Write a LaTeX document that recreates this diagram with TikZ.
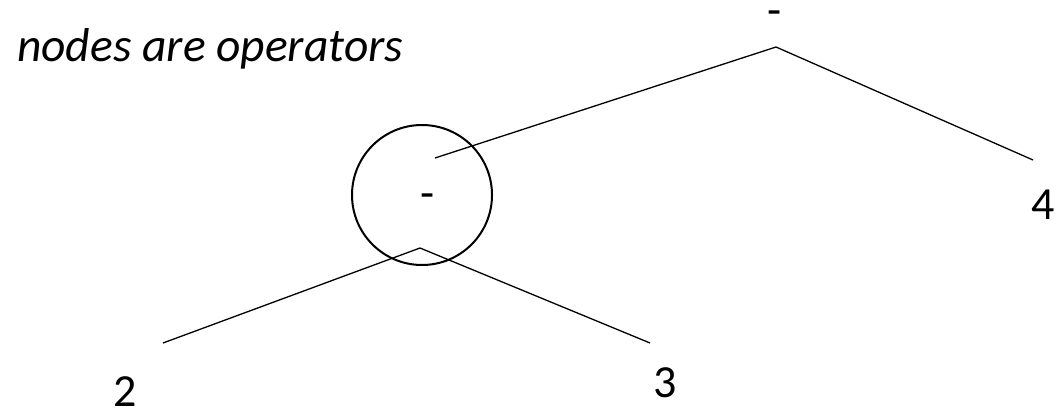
\documentclass[tikz,border=0pt]{standalone}
\usepackage{fontspec}
\setmainfont{Carlito}
\usetikzlibrary{positioning}

\begin{document}
\begin{tikzpicture}[x=1pt,y=-1pt,font=\fontsize{46}{52}\selectfont,
  op/.style={inner sep=0pt,anchor=base},
  leaf/.style={inner sep=0pt},
  edge/.style={line width=1.3pt}]
  \useasboundingbox (0,0) rectangle (1056,412);
  % caption
  \node[anchor=base west,inner sep=0pt,font=\fontsize{47.5}{52}\selectfont\itshape] (caption) at (17,62) {nodes are operators};
  % operators
  \node[op] (root) at (775,26) {-};
  \node[draw,circle,line width=2pt,minimum size=140pt,inner sep=0pt] (sub) at (422,195) {};
  \node[op] (subop) at (428,208) {-};
  % leaves
  \node[leaf] (four) at (1043,205) {4};
  \node[leaf] (two) at (125.5,392) {2};
  \node[leaf] (three) at (665.5,383) {3};
  % branch ends
  \coordinate (rootfork) at (776,47);
  \coordinate (subtip) at (435,158);
  \coordinate (fourtip) at (1033,160);
  \coordinate (subfork) at (420,248);
  \coordinate (twotip) at (163,343);
  \coordinate (threetip) at (650,343);
  \draw[edge] (subtip) -- (rootfork) -- (fourtip);
  \draw[edge] (twotip) -- (subfork) -- (threetip);
\end{tikzpicture}
\end{document}
